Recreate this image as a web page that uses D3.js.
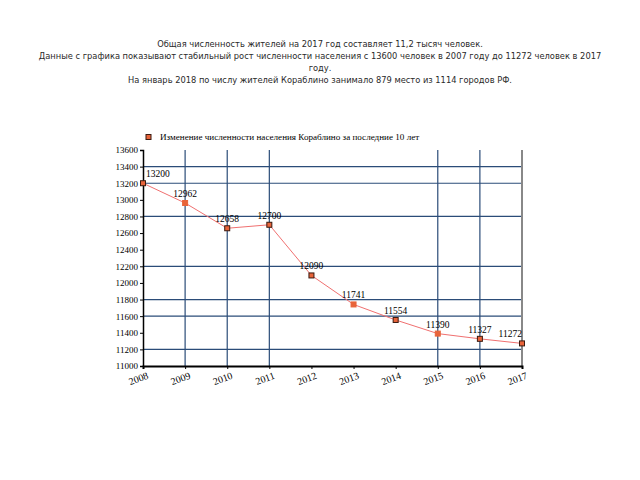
<!DOCTYPE html>
<html><head><meta charset="utf-8">
<script src="https://cdn.jsdelivr.net/npm/d3@7"></script>
<style>body{margin:0;background:#fff}</style>
</head><body>
<script>
const titleLines = [
  "Общая численность жителей на 2017 год составляет 11,2 тысяч человек.",
  "Данные с графика показывают стабильный рост численности населения с 13600 человек в 2007 году до 11272 человек в 2017",
  "году.",
  "На январь 2018 по числу жителей Кораблино занимало 879 место из 1114 городов РФ."
];
const legendLabel = "Изменение численности населения Кораблино за последние 10 лет";
const years = ["2008","2009","2010","2011","2012","2013","2014","2015","2016","2017"];
const population = [13200, 12962, 12658, 12700, 12090, 11741, 11554, 11390, 11327, 11272];
const yTicks = [11000,11200,11400,11600,11800,12000,12200,12400,12600,12800,13000,13200,13400,13600];
const hGridValues = [11200,11600,11800,12200,12800,13200,13400];
const vGridYears = ["2009","2010","2011","2015","2016","2017"];
const darkMarkerYears = ["2008","2010","2011","2012","2014","2016","2017"];

const W=640,H=480;
const svg=d3.select("body").append("svg").attr("width",W).attr("height",H);

const tl = svg.append("g").attr("font-family","DejaVu Sans").attr("font-size",8.3).attr("fill","#2a2a2a").attr("text-anchor","middle");
titleLines.forEach((t,i)=>tl.append("text").attr("x",320).attr("y",47+i*12).text(t));

const x=d3.scalePoint().domain(years).range([143,522]);
const y=d3.scaleLinear().domain([11000,13600]).range([366,150]);

const g=svg.append("g");
g.selectAll(".hg").data(hGridValues).join("line")
  .attr("x1",143).attr("x2",522).attr("y1",d=>y(d)).attr("y2",d=>y(d))
  .attr("stroke","#2b4c78").attr("stroke-width",1.2);
g.selectAll(".vg").data(vGridYears).join("line")
  .attr("x1",d=>x(d)).attr("x2",d=>x(d)).attr("y1",y(13600)).attr("y2",y(11000))
  .attr("stroke",d=>d==="2017"?"#888":"#2b4c78").attr("stroke-width",d=>d==="2017"?2:1.2);

const ya=svg.append("g").attr("transform","translate(143,0)")
  .call(d3.axisLeft(y).tickValues(yTicks).tickSize(3).tickFormat(d3.format("d")));
ya.select(".domain").attr("stroke","#000").attr("stroke-width",1.5);
ya.selectAll("text").attr("font-family","Liberation Serif").attr("font-size",9).attr("fill","#000").attr("dx",1);

const xa=svg.append("g").attr("transform","translate(0,366)")
  .call(d3.axisBottom(x).tickSize(3));
xa.select(".domain").attr("stroke","#000").attr("stroke-width",2);
xa.selectAll("text").attr("font-family","Liberation Serif").attr("font-size",10).attr("fill","#000")
  .attr("text-anchor","end").attr("transform","rotate(-20)").attr("dx","0.1em").attr("dy","0.75em");

const line=d3.line().x((d,i)=>x(years[i])).y(d=>y(d));
svg.append("path").datum(population).attr("d",line).attr("fill","none").attr("stroke","#f07070").attr("stroke-width",1);

svg.selectAll(".m").data(population).join("rect")
  .attr("x",(d,i)=>x(years[i])-2.5).attr("y",d=>y(d)-2.5).attr("width",5).attr("height",5)
  .attr("fill","#e8643a").attr("stroke",(d,i)=>darkMarkerYears.includes(years[i])?"#3a1a10":"#e8643a").attr("stroke-width",1);

svg.selectAll(".lb").data(population).join("text")
  .attr("x",(d,i)=>x(years[i])+(i===0?3:0)).attr("y",d=>y(d)-6)
  .attr("text-anchor",(d,i)=>i===0?"start":(i===population.length-1?"end":"middle"))
  .attr("font-family","Liberation Serif").attr("font-size",9.5).attr("fill","#000")
  .text(d=>d);

svg.append("rect").attr("x",146).attr("y",134.5).attr("width",5).attr("height",5)
  .attr("fill","#e8643a").attr("stroke","#3a1a10");
svg.append("text").attr("x",160).attr("y",140).attr("font-family","Liberation Serif").attr("font-size",9.1)
  .attr("fill","#000").text(legendLabel);
</script>
</body></html>
